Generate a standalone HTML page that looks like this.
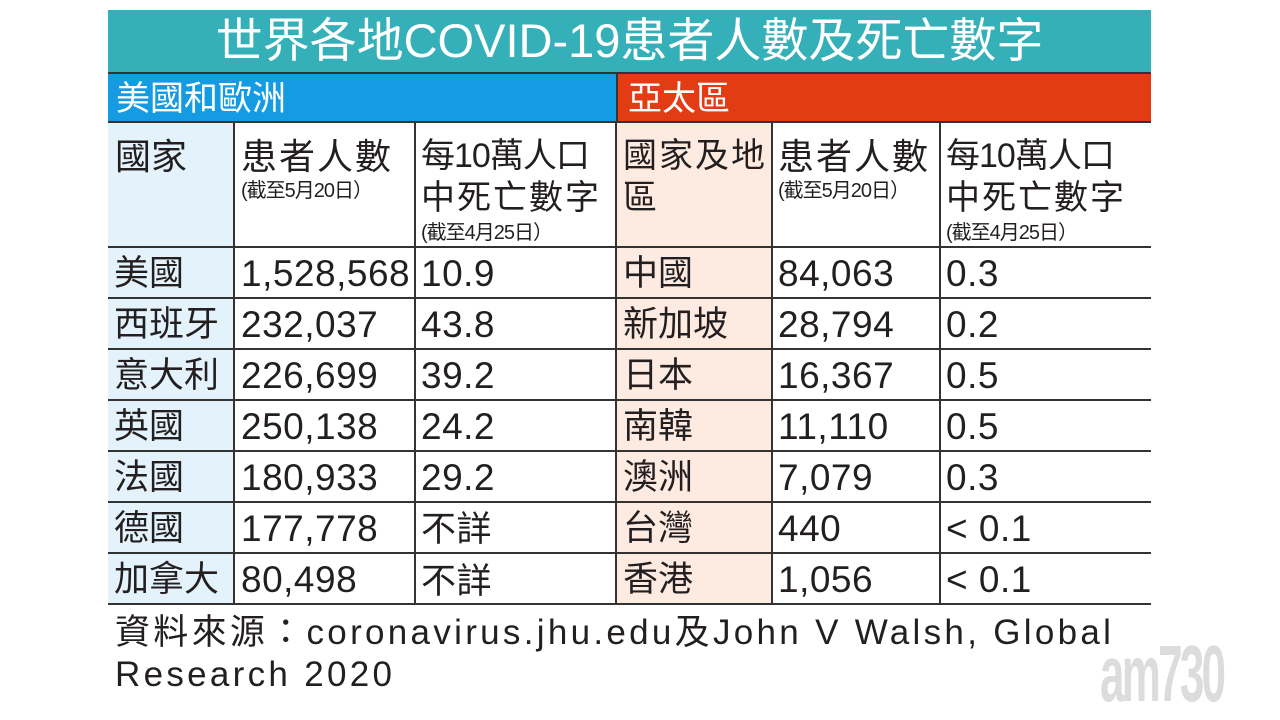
<!DOCTYPE html>
<html><head><meta charset="utf-8"><style>
body{margin:0;width:1280px;height:720px;background:#fff;position:relative;overflow:hidden;font-family:"Liberation Sans","Noto Sans CJK TC",sans-serif;color:#231f20}
.a{position:absolute;white-space:nowrap}
.title{left:108px;top:10px;width:1043px;height:62px;background:#35b0b9;color:#fff;font-size:47px;line-height:62px;text-align:center}
.sb{left:108px;top:72px;width:508px;height:50px;background:#149be2;color:#fff;font-size:34px;line-height:50px;padding-left:8px;box-sizing:border-box;border-top:2px solid #333}
.so{left:616px;top:72px;width:535px;height:50px;background:#e23c14;color:#fff;font-size:34px;line-height:50px;padding-left:10px;box-sizing:border-box;border-top:2px solid #333;border-left:2px solid #333}
.c{font-size:36px}
.s{font-size:20px;letter-spacing:-1px}
.col{position:absolute;top:248px;line-height:51px;white-space:nowrap}
.cj{font-size:35px}
.nm{font-size:37px;letter-spacing:0.5px}
.src{position:absolute;left:115px;top:612px;font-size:35px;line-height:42px;letter-spacing:3.3px;color:#231f20}
</style></head><body>
<div class="a title">世界各地COVID-19患者人數及死亡數字</div>
<div class="a sb">美國和歐洲</div>
<div class="a so">亞太區</div>
<div class="a" style="left:108px;top:122px;width:125px;height:482px;background:#e4f2fb"></div>
<div class="a" style="left:616px;top:122px;width:156px;height:482px;background:#fdebe1"></div>
<div class="a" style="left:108px;top:121px;width:1043px;height:2px;background:#333"></div>
<div class="a" style="left:108px;top:246px;width:1043px;height:2px;background:#333"></div>
<div class="a" style="left:108px;top:297px;width:1043px;height:2px;background:#333"></div>
<div class="a" style="left:108px;top:348px;width:1043px;height:2px;background:#333"></div>
<div class="a" style="left:108px;top:399px;width:1043px;height:2px;background:#333"></div>
<div class="a" style="left:108px;top:450px;width:1043px;height:2px;background:#333"></div>
<div class="a" style="left:108px;top:501px;width:1043px;height:2px;background:#333"></div>
<div class="a" style="left:108px;top:552px;width:1043px;height:2px;background:#333"></div>
<div class="a" style="left:108px;top:603px;width:1043px;height:2px;background:#333"></div>
<div class="a" style="left:233px;top:122px;width:2px;height:482px;background:#333"></div>
<div class="a" style="left:414px;top:122px;width:2px;height:482px;background:#333"></div>
<div class="a" style="left:615px;top:122px;width:2px;height:482px;background:#333"></div>
<div class="a" style="left:771px;top:122px;width:2px;height:482px;background:#333"></div>
<div class="a" style="left:939px;top:122px;width:2px;height:482px;background:#333"></div>
<div class="a c" style="left:115px;top:128px">國家</div>
<div class="a c" style="left:241px;top:128px;letter-spacing:2px">患者人數</div>
<div class="a s" style="left:241px;top:174px">(截至5月20日）</div>
<div class="a c" style="left:421px;top:128px;font-size:34px;letter-spacing:-1px">每10萬人口</div>
<div class="a c" style="left:421px;top:170px;font-size:34px;letter-spacing:2px">中死亡數字</div>
<div class="a s" style="left:421px;top:216px">(截至4月25日）</div>
<div class="a c" style="left:623px;top:128px;letter-spacing:2px;font-size:34px">國家及地</div>
<div class="a c" style="left:623px;top:170px;font-size:34px">區</div>
<div class="a c" style="left:778px;top:128px;letter-spacing:2px">患者人數</div>
<div class="a s" style="left:778px;top:174px">(截至5月20日）</div>
<div class="a c" style="left:946px;top:128px;font-size:34px;letter-spacing:-1px">每10萬人口</div>
<div class="a c" style="left:946px;top:170px;font-size:34px;letter-spacing:2px">中死亡數字</div>
<div class="a s" style="left:946px;top:216px">(截至4月25日）</div>

<div class="col cj" style="left:114px">美國<br>西班牙<br>意大利<br>英國<br>法國<br>德國<br>加拿大</div>
<div class="col nm" style="left:241px">1,528,568<br>232,037<br>226,699<br>250,138<br>180,933<br>177,778<br>80,498</div>
<div class="col nm" style="left:421px">10.9<br>43.8<br>39.2<br>24.2<br>29.2<br><span class="cj">不詳</span><br><span class="cj">不詳</span></div>
<div class="col cj" style="left:623px">中國<br>新加坡<br>日本<br>南韓<br>澳洲<br>台灣<br>香港</div>
<div class="col nm" style="left:778px">84,063<br>28,794<br>16,367<br>11,110<br>7,079<br>440<br>1,056</div>
<div class="col nm" style="left:946px">0.3<br>0.2<br>0.5<br>0.5<br>0.3<br>&lt; 0.1<br>&lt; 0.1</div>

<div class="src">資料來源：coronavirus.jhu.edu及John V Walsh, Global<br>Research 2020</div>
<div class="a" style="left:1100px;top:628px;font-size:80px;font-weight:bold;color:#dcdcdc;letter-spacing:-5px;transform:scaleX(0.55);transform-origin:left">am730</div>
</body></html>
